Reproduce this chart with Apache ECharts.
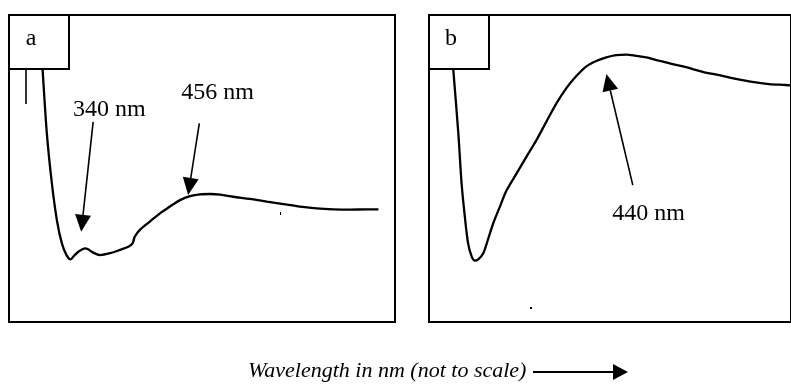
<!DOCTYPE html>
<html>
<head>
<meta charset="utf-8">
<script src="https://cdn.jsdelivr.net/npm/echarts@6/dist/echarts.min.js"></script>
<style>
  html, body { margin: 0; padding: 0; background: #fff; }
  #chart { width: 791px; height: 388px; }
</style>
</head>
<body>
<div id="chart"></div>
<script>
// spectrum a (relative position across panel, relative absorbance)
const aX = [7.8, 8.7, 9.8, 11.1, 12.4, 13.7, 14.9, 16.0, 16.8, 18.0, 19.7, 20.5, 21.8, 23.6, 26.2, 28.8,
  30.9, 32.0, 32.6, 33.9, 36.5, 39.1, 41.7, 44.3, 46.9, 49.5, 52.1, 54.7, 58.1, 62.4, 66.8, 71.1,
  75.4, 79.7, 84.0, 88.3, 92.7, 95.7]
const aY = [100, 82.3, 61.5, 45.2, 33.2, 25.6, 21.8, 20.4, 21.5, 22.9, 24.0, 23.7, 22.6, 21.8, 22.4, 23.5,
  24.5, 25.6, 27.8, 30.0, 32.7, 35.4, 37.6, 39.7, 41.0, 41.6, 41.7, 41.5, 40.8, 40.1, 39.2, 38.4,
  37.6, 37.0, 36.7, 36.6, 36.7, 36.7]

// spectrum b
const bX = [5.5, 6.7, 8.1, 9.0, 9.9, 10.8, 11.8, 12.7, 13.6, 15.0, 16.3, 17.7, 19.6, 21.4, 24.2, 26.9,
  29.7, 32.4, 35.2, 37.9, 40.7, 43.4, 46.2, 49.0, 51.7, 54.5, 57.2, 60.0, 63.6, 67.3, 71.0, 75.6,
  80.2, 84.8, 89.3, 93.9, 98.5, 99.7]
const bY = [100, 82.3, 61.5, 45.2, 34.3, 25.6, 21.3, 20.0, 20.4, 22.4, 26.9, 32.0, 37.6, 42.8, 48.4, 53.8,
  59.3, 65.2, 71.2, 76.1, 80.1, 83.2, 85.0, 86.2, 86.9, 87.1, 86.7, 86.2, 85.1, 84.0, 83.0, 81.5,
  80.4, 79.2, 78.2, 77.5, 77.2, 77.1]

// peak annotations: panel, label, label anchor, arrow start, arrow tip
const notes = [
  { grid: 0, text: '340 nm', at: [16.6, 69.1], from: [21.8, 65.2], to: [18.7, 29.4] },
  { grid: 0, text: '456 nm', at: [44.6, 74.7], from: [49.3, 64.7], to: [46.4, 41.4] },
  { grid: 1, text: '440 nm', at: [50.6, 35.2], from: [56.3, 44.6], to: [49.0, 80.8] }
]
const panelLabels = ['a', 'b']
const xTitle = 'Wavelength in nm (not to scale)'

const FONT = '"Liberation Serif", "Times New Roman", serif'

const chart = echarts.init(document.getElementById('chart'))

const grids = [
  { left: 9, top: 15, width: 386, height: 307 },
  { left: 429, top: 15, width: 363, height: 307 }
]

chart.setOption({
  animation: false,
  backgroundColor: '#fff',
  grid: grids.map(g => ({ ...g, show: true, borderColor: '#000', borderWidth: 2, backgroundColor: 'transparent' })),
  xAxis: grids.map((g, i) => ({ type: 'value', gridIndex: i, min: 0, max: 100, show: false })),
  yAxis: grids.map((g, i) => ({ type: 'value', gridIndex: i, min: 0, max: 100, show: false })),
  series: [
    { type: 'line', xAxisIndex: 0, yAxisIndex: 0, data: aX.map((x, i) => [x, aY[i]]),
      symbol: 'none', smooth: 0.3, lineStyle: { color: '#000', width: 2.3 } },
    { type: 'line', xAxisIndex: 1, yAxisIndex: 1, data: bX.map((x, i) => [x, bY[i]]),
      symbol: 'none', smooth: 0.3, lineStyle: { color: '#000', width: 2.3 } }
  ]
})

function arrow(p0, p1, head, half, width) {
  const dx = p1[0] - p0[0], dy = p1[1] - p0[1]
  const len = Math.hypot(dx, dy)
  const ux = dx / len, uy = dy / len
  const bx = p1[0] - ux * head, by = p1[1] - uy * head
  return [
    { type: 'line', z: 50, shape: { x1: p0[0], y1: p0[1], x2: bx, y2: by },
      style: { stroke: '#000', lineWidth: width } },
    { type: 'polygon', z: 50,
      shape: { points: [[p1[0], p1[1]], [bx - uy * half, by + ux * half], [bx + uy * half, by - ux * half]] },
      style: { fill: '#000' } }
  ]
}

const graphic = []

// label boxes
grids.forEach((g, i) => {
  graphic.push({ type: 'rect', z: 60, shape: { x: g.left, y: g.top, width: 60, height: 54 },
    style: { fill: '#fff', stroke: '#000', lineWidth: 2 } })
  graphic.push({ type: 'text', z: 61, x: g.left + 22, y: 39,
    style: { text: panelLabels[i], font: '24px ' + FONT, fill: '#000', textAlign: 'center', textVerticalAlign: 'middle' } })
})

// stray marks of the original scan
graphic.push({ type: 'line', z: 50, shape: { x1: 26, y1: 69, x2: 26, y2: 104 }, style: { stroke: '#000', lineWidth: 1.6 } })
graphic.push({ type: 'rect', z: 50, shape: { x: 280, y: 212, width: 1, height: 3 }, style: { fill: '#000' } })
graphic.push({ type: 'rect', z: 50, shape: { x: 530, y: 307, width: 2, height: 2 }, style: { fill: '#000' } })

notes.forEach(n => {
  const at = chart.convertToPixel({ gridIndex: n.grid }, n.at)
  const from = chart.convertToPixel({ gridIndex: n.grid }, n.from)
  const to = chart.convertToPixel({ gridIndex: n.grid }, n.to)
  graphic.push({ type: 'text', z: 55, x: at[0], y: at[1],
    style: { text: n.text, font: '24px ' + FONT, fill: '#000', textAlign: 'left', textVerticalAlign: 'middle' } })
  graphic.push(...arrow(from, to, 17, 8, 1.6))
})

// axis caption with arrow
graphic.push({ type: 'text', z: 55, x: 248, y: 371,
  style: { text: xTitle, font: 'italic 22px ' + FONT, fill: '#000', textAlign: 'left', textVerticalAlign: 'middle' } })
graphic.push(...arrow([533, 372], [628, 372], 15, 8, 2))

chart.setOption({ graphic })
</script>
</body>
</html>
